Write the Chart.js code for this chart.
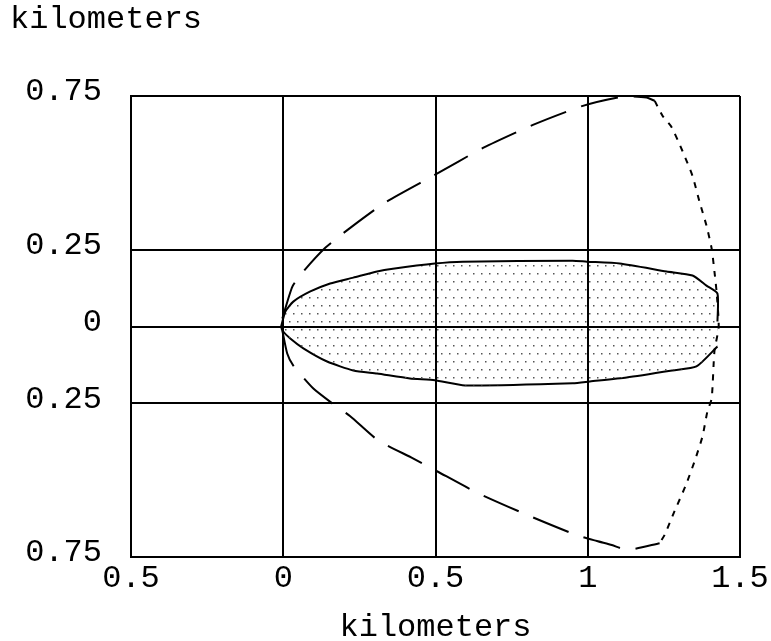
<!DOCTYPE html>
<html>
<head>
<meta charset="utf-8">
<script src="https://cdn.jsdelivr.net/npm/chart.js@4"></script>
<style>
  body { margin: 0; background: #fff; }
  #caja { width: 771px; height: 641px; }
</style>
</head>
<body>
<div id="caja"><canvas id="grafica"></canvas></div>
<script>
// ticks de los ejes (las etiquetas no llevan signo, como en el original)
let xTicks = [-0.5, 0, 0.5, 1, 1.5];
let xTickLabels = ['0.5', '0', '0.5', '1', '1.5'];
let yTicks = [-0.75, -0.25, 0, 0.25, 0.75];
let yTickLabels = ['0.75', '0.25', '0', '0.25', '0.75'];

// zona sombreada: borde superior y borde inferior (km)
let sombraArriba = [
  {x: -0.007, y: 0.0}, {x: 0.007, y: 0.049}, {x: 0.033, y: 0.081}, {x: 0.089, y: 0.114},
  {x: 0.154, y: 0.140}, {x: 0.23, y: 0.159}, {x: 0.308, y: 0.179}, {x: 0.36, y: 0.188},
  {x: 0.498, y: 0.205}, {x: 0.59, y: 0.211}, {x: 0.95, y: 0.214}, {x: 0.997, y: 0.211},
  {x: 1.105, y: 0.205}, {x: 1.259, y: 0.179}, {x: 1.344, y: 0.166}, {x: 1.39, y: 0.133},
  {x: 1.426, y: 0.107}, {x: 1.426, y: 0.016}
];
let sombraAbajo = [
  {x: -0.007, y: 0.0}, {x: -0.003, y: -0.013}, {x: 0.023, y: -0.039}, {x: 0.066, y: -0.071},
  {x: 0.144, y: -0.114}, {x: 0.23, y: -0.143}, {x: 0.308, y: -0.153}, {x: 0.416, y: -0.169},
  {x: 0.498, y: -0.175}, {x: 0.597, y: -0.192}, {x: 0.951, y: -0.185}, {x: 1.007, y: -0.179},
  {x: 1.128, y: -0.166}, {x: 1.279, y: -0.143}, {x: 1.357, y: -0.13}, {x: 1.426, y: -0.065}
];

// curva exterior de trazos largos (arriba y abajo)
let trazoArriba = [
  {x: -0.003, y: 0.026}, {x: 0.03, y: 0.13}, {x: 0.066, y: 0.179}, {x: 0.138, y: 0.256},
  {x: 0.22, y: 0.321}, {x: 0.334, y: 0.403}, {x: 0.492, y: 0.49}, {x: 0.656, y: 0.581},
  {x: 0.82, y: 0.656}, {x: 0.984, y: 0.718}, {x: 1.115, y: 0.748}, {x: 1.193, y: 0.745},
  {x: 1.22, y: 0.734}
];
let trazoAbajo = [
  {x: -0.003, y: -0.013}, {x: 0.013, y: -0.088}, {x: 0.033, y: -0.127}, {x: 0.098, y: -0.201},
  {x: 0.161, y: -0.25}, {x: 0.22, y: -0.292}, {x: 0.311, y: -0.37}, {x: 0.426, y: -0.429},
  {x: 0.505, y: -0.471}, {x: 0.639, y: -0.542}, {x: 0.803, y: -0.614}, {x: 0.964, y: -0.679},
  {x: 1.03, y: -0.698}, {x: 1.079, y: -0.711}, {x: 1.131, y: -0.727}, {x: 1.236, y: -0.705}
];

// curva de puntos que cierra por la derecha
let punteado = [
  {x: 1.22, y: 0.734}, {x: 1.246, y: 0.685}, {x: 1.275, y: 0.649}, {x: 1.311, y: 0.571},
  {x: 1.344, y: 0.49}, {x: 1.367, y: 0.406}, {x: 1.39, y: 0.328}, {x: 1.407, y: 0.253},
  {x: 1.416, y: 0.179}, {x: 1.423, y: 0.114}, {x: 1.43, y: 0.0}, {x: 1.416, y: -0.081},
  {x: 1.407, y: -0.234}, {x: 1.393, y: -0.276}, {x: 1.377, y: -0.357}, {x: 1.351, y: -0.438},
  {x: 1.321, y: -0.519}, {x: 1.285, y: -0.601}, {x: 1.252, y: -0.679}, {x: 1.236, y: -0.705}
];

let fuente = { family: '"Liberation Mono", "DejaVu Sans Mono", monospace', size: 32, lineHeight: 1 };
Chart.defaults.color = '#000';

function crearPatron(ctx) {
  // trama de puntitos para la zona sombreada
  const c = document.createElement('canvas');
  c.width = 8;
  c.height = 16;
  const p = c.getContext('2d');
  p.fillStyle = '#555';
  p.fillRect(1, 1, 1.5, 1.5);
  p.fillRect(5, 9, 1.5, 1.5);
  return ctx.createPattern(c, 'repeat');
}

function crearGrafica() {
  const ctx = document.getElementById('grafica').getContext('2d');
  const patron = crearPatron(ctx);
  new Chart(ctx, {
    type: 'scatter',
    data: {
      datasets: [
        {
          data: sombraArriba,
          showLine: true,
          borderColor: '#000',
          borderWidth: 2,
          pointRadius: 0,
          tension: 0.2,
          backgroundColor: patron,
          fill: '+1'
        },
        {
          data: sombraAbajo,
          showLine: true,
          borderColor: '#000',
          borderWidth: 2,
          pointRadius: 0,
          tension: 0.2,
          fill: false
        },
        {
          data: trazoArriba,
          showLine: true,
          borderColor: '#000',
          borderWidth: 2,
          borderDash: [38, 16],
          pointRadius: 0,
          tension: 0.2,
          fill: false
        },
        {
          data: trazoAbajo,
          showLine: true,
          borderColor: '#000',
          borderWidth: 2,
          borderDash: [38, 16],
          pointRadius: 0,
          tension: 0.2,
          fill: false
        },
        {
          data: punteado,
          showLine: true,
          borderColor: '#000',
          borderWidth: 2,
          borderDash: [6, 7],
          pointRadius: 0,
          tension: 0.2,
          fill: false
        }
      ]
    },
    options: {
      responsive: true,
      maintainAspectRatio: false,
      animation: false,
      layout: {
        padding: { left: 10, right: 31, top: 0, bottom: 0 }
      },
      scales: {
        x: {
          min: -0.5,
          max: 1.5,
          afterBuildTicks: (eje) => { eje.ticks = xTicks.map(v => ({ value: v })); },
          // alto fijo del eje y sin margen extra por las etiquetas de los extremos
          afterFit: (eje) => { eje.height = 84; eje.paddingLeft = 0; eje.paddingRight = 0; },
          ticks: {
            font: fuente,
            padding: 6,
            maxRotation: 0,
            callback: (valor, i) => xTickLabels[i]
          },
          grid: { color: '#000', lineWidth: 2, drawTicks: false },
          border: { color: '#000', width: 2 },
          title: {
            display: true,
            text: 'kilometers',
            font: fuente,
            padding: { top: 16, bottom: -3 }
          }
        },
        y: {
          min: -0.75,
          max: 0.75,
          afterBuildTicks: (eje) => { eje.ticks = yTicks.map(v => ({ value: v })); },
          afterFit: (eje) => { eje.width = 121; },
          ticks: {
            font: fuente,
            padding: 29,
            labelOffset: -4,
            callback: (valor, i) => yTickLabels[i]
          },
          grid: { color: '#000', lineWidth: 2, drawTicks: false },
          border: { color: '#000', width: 2 }
        }
      },
      plugins: {
        legend: { display: false },
        tooltip: { enabled: false },
        title: {
          display: true,
          text: 'kilometers',
          align: 'start',
          font: Object.assign({}, fuente, { weight: 'normal' }),
          padding: { top: 4, bottom: 60 }
        }
      }
    }
  });
}

crearGrafica();
</script>
</body>
</html>
